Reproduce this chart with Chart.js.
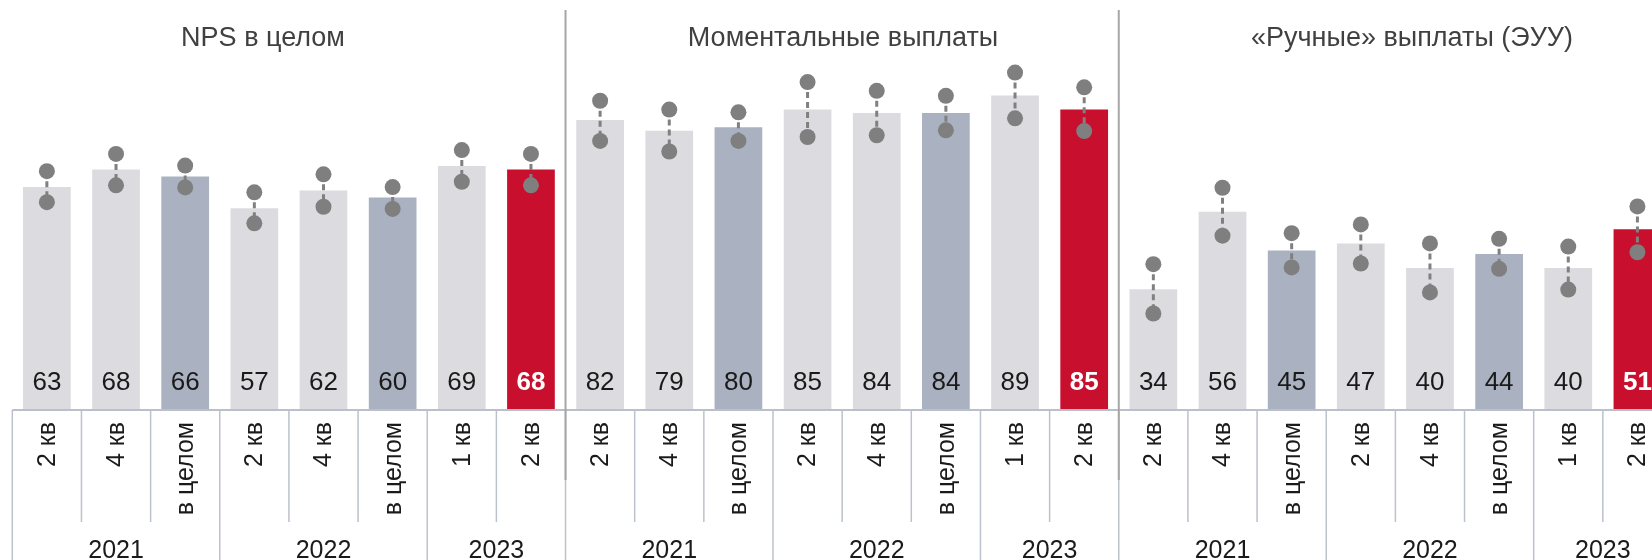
<!DOCTYPE html>
<html lang="ru">
<head>
    <meta charset="UTF-8">
    <title>NPS</title>
    <script src="https://cdn.jsdelivr.net/npm/chart.js"></script>
    <style>
        body {
            margin: 0;
            background: #fff;
            overflow: hidden;
        }
        #wrap {
            width: 1680px;
            height: 560px;
        }
    </style>
</head>
<body>
<div id="wrap"><canvas id="npsChart" width="1680" height="560"></canvas></div>

<script>
    // data
    const quarterLabels = ['2 кв', '4 кв', 'в целом', '2 кв', '4 кв', 'в целом', '1 кв', '2 кв'];
    const yearLabels = ['2021', '2022', '2023'];
    const yearSpans = [3, 3, 2];
    const panelTitles = ['NPS в целом', 'Моментальные выплаты', '«Ручные» выплаты (ЭУУ)'];

    const npsValues = [63, 68, 66, 57, 62, 60, 69, 68];
    const npsLow = [58.7, 63.5, 62.9, 52.7, 57.4, 56.8, 64.5, 63.5];
    const npsHigh = [67.5, 72.4, 69.1, 61.5, 66.6, 63.0, 73.5, 72.4];

    const instantValues = [82, 79, 80, 85, 84, 84, 89, 85];
    const instantLow = [76.1, 73.1, 76.1, 77.2, 77.7, 79.1, 82.5, 78.9];
    const instantHigh = [87.5, 85.0, 84.2, 92.8, 90.3, 88.9, 95.5, 91.3];

    const manualValues = [34, 56, 45, 47, 40, 44, 40, 51];
    const manualLow = [27.1, 49.2, 40.2, 41.3, 33.1, 39.8, 33.9, 44.5];
    const manualHigh = [41.1, 62.8, 49.9, 52.4, 47.0, 48.3, 46.1, 57.5];

    const labels = [...quarterLabels, ...quarterLabels, ...quarterLabels];
    const values = [...npsValues, ...instantValues, ...manualValues];
    const lows = [...npsLow, ...instantLow, ...manualLow];
    const highs = [...npsHigh, ...instantHigh, ...manualHigh];

    const LIGHT = '#dcdce0';
    const TOTAL = '#aab1c0';
    const RED = '#c8102e';
    const barColors = labels.map((l, i) => {
        if (i % 8 === 7) return RED;
        return l === 'в целом' ? TOTAL : LIGHT;
    });

    const FONT = '"Liberation Sans", Arial, sans-serif';
    const titleCenters = [263, 843, 1412];

    const panelsPlugin = {
        id: 'panels',
        afterDatasetDraw(chart, args) {
            if (args.index !== 0) return;
            // dashed connectors between the dots
            const ctx = chart.ctx;
            const x = chart.scales.x, y = chart.scales.y;
            ctx.save();
            ctx.strokeStyle = '#808080';
            ctx.lineWidth = 3;
            ctx.setLineDash([6, 4]);
            lows.forEach((lo, i) => {
                const px = x.getPixelForValue(i);
                ctx.beginPath();
                ctx.moveTo(px, y.getPixelForValue(highs[i]));
                ctx.lineTo(px, y.getPixelForValue(lo));
                ctx.stroke();
            });
            ctx.restore();
        },
        afterDraw(chart) {
            const ctx = chart.ctx;
            const x = chart.scales.x, y = chart.scales.y;
            const base = y.getPixelForValue(0);
            const step = x.getPixelForValue(1) - x.getPixelForValue(0);
            const left = x.getPixelForValue(0) - step / 2;
            const right = x.getPixelForValue(labels.length - 1) + step / 2;
            ctx.save();

            // values at bottom of bars
            const meta = chart.getDatasetMeta(0);
            ctx.textAlign = 'center';
            ctx.textBaseline = 'middle';
            meta.data.forEach((bar, i) => {
                const isRed = i % 8 === 7;
                ctx.font = (isRed ? 'bold ' : '') + '26px ' + FONT;
                ctx.fillStyle = isRed ? '#ffffff' : '#1a1a1a';
                ctx.fillText(values[i], bar.x, base - 26);
            });

            // axis line
            ctx.strokeStyle = '#b9c0ca';
            ctx.lineWidth = 2;
            ctx.beginPath();
            ctx.moveTo(left, base + 1);
            ctx.lineTo(right, base + 1);
            ctx.stroke();

            // category dividers and year dividers
            ctx.lineWidth = 1.5;
            ctx.strokeStyle = '#bcc2cb';
            const yearEdges = [];
            let acc = 0;
            for (let p = 0; p < 3; p++) {
                yearSpans.forEach(s => { yearEdges.push(acc); acc += s; });
            }
            for (let i = 0; i <= labels.length; i++) {
                const px = left + i * step;
                const isYear = yearEdges.includes(i) || i === labels.length;
                ctx.beginPath();
                ctx.moveTo(px, base + 1);
                ctx.lineTo(px, isYear ? 560 : 522);
                ctx.stroke();
            }

            // rotated quarter labels
            ctx.fillStyle = '#1a1a1a';
            ctx.font = '25px ' + FONT;
            labels.forEach((l, i) => {
                ctx.save();
                ctx.translate(x.getPixelForValue(i), 422);
                ctx.rotate(-Math.PI / 2);
                ctx.textAlign = 'right';
                ctx.textBaseline = 'middle';
                ctx.fillText(l, 0, 1);
                ctx.restore();
            });

            // year labels
            ctx.textAlign = 'center';
            ctx.textBaseline = 'middle';
            yearEdges.forEach((start, k) => {
                const span = yearSpans[k % 3];
                const cx = left + (start + span / 2) * step;
                ctx.fillText(yearLabels[k % 3], cx, 551);
            });

            // panel separators
            ctx.strokeStyle = '#a6a6a6';
            ctx.lineWidth = 2;
            [8, 16].forEach(i => {
                const px = left + i * step;
                ctx.beginPath();
                ctx.moveTo(px, 10);
                ctx.lineTo(px, 480);
                ctx.stroke();
            });

            // panel titles
            ctx.fillStyle = '#404040';
            ctx.font = '27px ' + FONT;
            panelTitles.forEach((t, k) => ctx.fillText(t, titleCenters[k], 39));

            ctx.restore();
        }
    };

    new Chart(document.getElementById('npsChart'), {
        type: 'bar',
        data: {
            labels: labels,
            datasets: [{
                label: 'NPS',
                data: values,
                backgroundColor: barColors,
                borderWidth: 0,
                categoryPercentage: 1,
                barPercentage: 0.69,
                order: 3
            }, {
                type: 'line',
                label: 'low',
                data: lows,
                showLine: false,
                pointRadius: 8,
                pointHoverRadius: 8,
                pointBackgroundColor: '#7f7f7f',
                pointBorderWidth: 0,
                order: 1
            }, {
                type: 'line',
                label: 'high',
                data: highs,
                showLine: false,
                pointRadius: 8,
                pointHoverRadius: 8,
                pointBackgroundColor: '#7f7f7f',
                pointBorderWidth: 0,
                order: 1
            }]
        },
        options: {
            responsive: false,
            animation: false,
            layout: {
                padding: { left: 12.3, right: 5.7, top: 56.7, bottom: 151 }
            },
            plugins: {
                legend: { display: false },
                tooltip: { enabled: false }
            },
            scales: {
                x: { display: false },
                y: { display: false, min: 0, max: 100 }
            }
        },
        plugins: [panelsPlugin]
    });
</script>
</body>
</html>
